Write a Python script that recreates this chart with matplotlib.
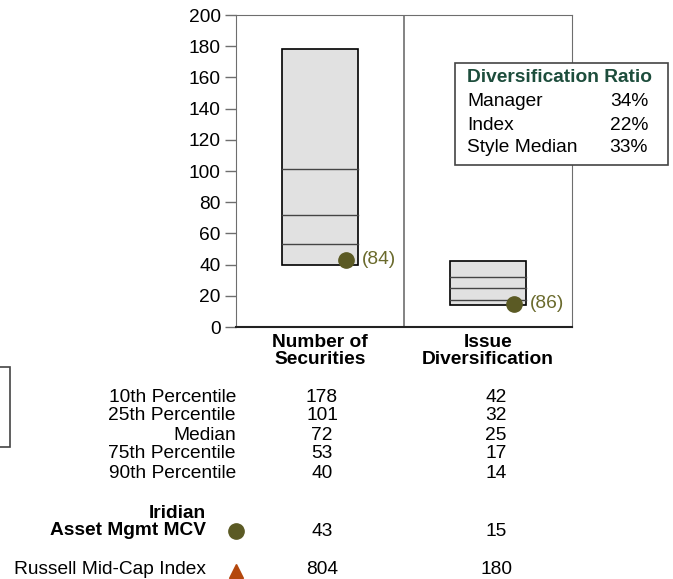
import numpy as np
import matplotlib
matplotlib.use("Agg")
import matplotlib.pyplot as plt
from matplotlib.patches import Rectangle
from matplotlib.transforms import blended_transform_factory

plt.rcParams["font.family"] = ["Liberation Sans", "DejaVu Sans"]

# Distribución del universo de estilo (percentiles 10, 25, 50, 75, 90)
categorias = ["Number of\nSecurities", "Issue\nDiversification"]
p10 = [178, 42]
p25 = [101, 32]
mediana = [72, 25]
p75 = [53, 17]
p90 = [40, 14]
manager = [43, 15]
rango_manager = [84, 86]
indice = [804, 180]
filas = ["10th Percentile", "25th Percentile", "Median", "75th Percentile", "90th Percentile"]

ratio_filas = ["Manager", "Index", "Style Median"]
ratio_valores = ["34%", "22%", "33%"]

W, H = 673, 579
OLIVA = "#5b5a24"
NARANJA = "#b4470c"
GRIS = "#6e6e6e"
FS = 13.8


def fy(y):
    return 1 - y / H


def fx(x):
    return x / W


fig = plt.figure(figsize=(W / 100, H / 100), dpi=100)
ax = fig.add_axes([fx(236), fy(327), fx(572) - fx(236), fy(15) - fy(327)])
ax.set_xlim(0, 2)
ax.set_ylim(0, 200)
ax.set_yticks(np.arange(0, 201, 20))
ax.set_xticks([])
ax.tick_params(axis="y", length=8, width=1, color=GRIS, labelsize=FS, pad=3)
for lado in ["left", "right", "top"]:
    ax.spines[lado].set_color(GRIS)
ax.spines["bottom"].set_color("#222222")
ax.spines["bottom"].set_linewidth(1.5)
ax.axvline(1, color=GRIS, lw=1.2)

ancho = 0.452
for i in range(len(categorias)):
    c = i + 0.5
    ax.add_patch(Rectangle((c - ancho / 2, p90[i]), ancho, p10[i] - p90[i],
                           facecolor="#e1e1e1", edgecolor="black", lw=1.2, zorder=2))
    for v in [p25[i], mediana[i], p75[i]]:
        ax.plot([c - ancho / 2, c + ancho / 2], [v, v], color="#444444", lw=1, zorder=3)
    ax.plot(c + 0.155, manager[i], "o", color=OLIVA, ms=11, zorder=4, clip_on=False)
    ax.text(c + 0.25, manager[i], f"({rango_manager[i]})", color="#6a6a2c",
            fontsize=FS, va="center", ha="left")

# Tabla inferior: x en datos, y en coordenadas de figura
tr = blended_transform_factory(ax.transData, fig.transFigure)
col_x = [0.512, 1.548]
for i, cat in enumerate(categorias):
    ax.text(i + 0.5, fy(351), cat, transform=tr, ha="center", va="center",
            fontsize=FS, fontweight="bold", linespacing=0.95)

ys = [398, 416, 435, 454, 473]
for j, nombre in enumerate(filas):
    fig.text(fx(236), fy(ys[j]), nombre, ha="right", va="center", fontsize=FS)
    valores = [p10, p25, mediana, p75, p90][j]
    for i in range(len(categorias)):
        ax.text(col_x[i], fy(ys[j]), str(valores[i]), transform=tr,
                ha="center", va="center", fontsize=FS)

fig.text(fx(206), fy(522), "Iridian\nAsset Mgmt MCV", ha="right", va="center",
         fontsize=FS, fontweight="bold", linespacing=0.95, multialignment="right")
ax.plot(0, fy(531), "o", color=OLIVA, ms=11, transform=tr, clip_on=False)
for i in range(len(categorias)):
    ax.text(col_x[i], fy(531), str(manager[i]), transform=tr,
            ha="center", va="center", fontsize=FS)

fig.text(fx(206), fy(570), "Russell Mid-Cap Index", ha="right", va="center", fontsize=FS)
ax.plot(0, fy(571), "^", color=NARANJA, ms=10, transform=tr, clip_on=False)
for i in range(len(categorias)):
    ax.text(col_x[i], fy(570), str(indice[i]), transform=tr,
            ha="center", va="center", fontsize=FS)

# Recuadro del ratio de diversificación
fig.patches.append(Rectangle((fx(455), fy(165)), fx(668) - fx(455), fy(63) - fy(165),
                             transform=fig.transFigure, facecolor="white",
                             edgecolor="#444444", lw=1.2, zorder=5))
fig.text(fx(467), fy(78), "Diversification Ratio", fontsize=FS, fontweight="bold",
         color="#1d4d3c", va="center", ha="left", zorder=6)
for k, (n, v) in enumerate(zip(ratio_filas, ratio_valores)):
    fig.text(fx(467), fy(102 + 23 * k), n, fontsize=FS, va="center", ha="left", zorder=6)
    fig.text(fx(648), fy(102 + 23 * k), v, fontsize=FS, va="center", ha="right", zorder=6)

# Marco parcial a la izquierda
fig.patches.append(Rectangle((fx(-2), fy(447)), fx(12), fy(367) - fy(447),
                             transform=fig.transFigure, facecolor="none",
                             edgecolor="#444444", lw=1.2))

fig.savefig("out.png", dpi=100)
